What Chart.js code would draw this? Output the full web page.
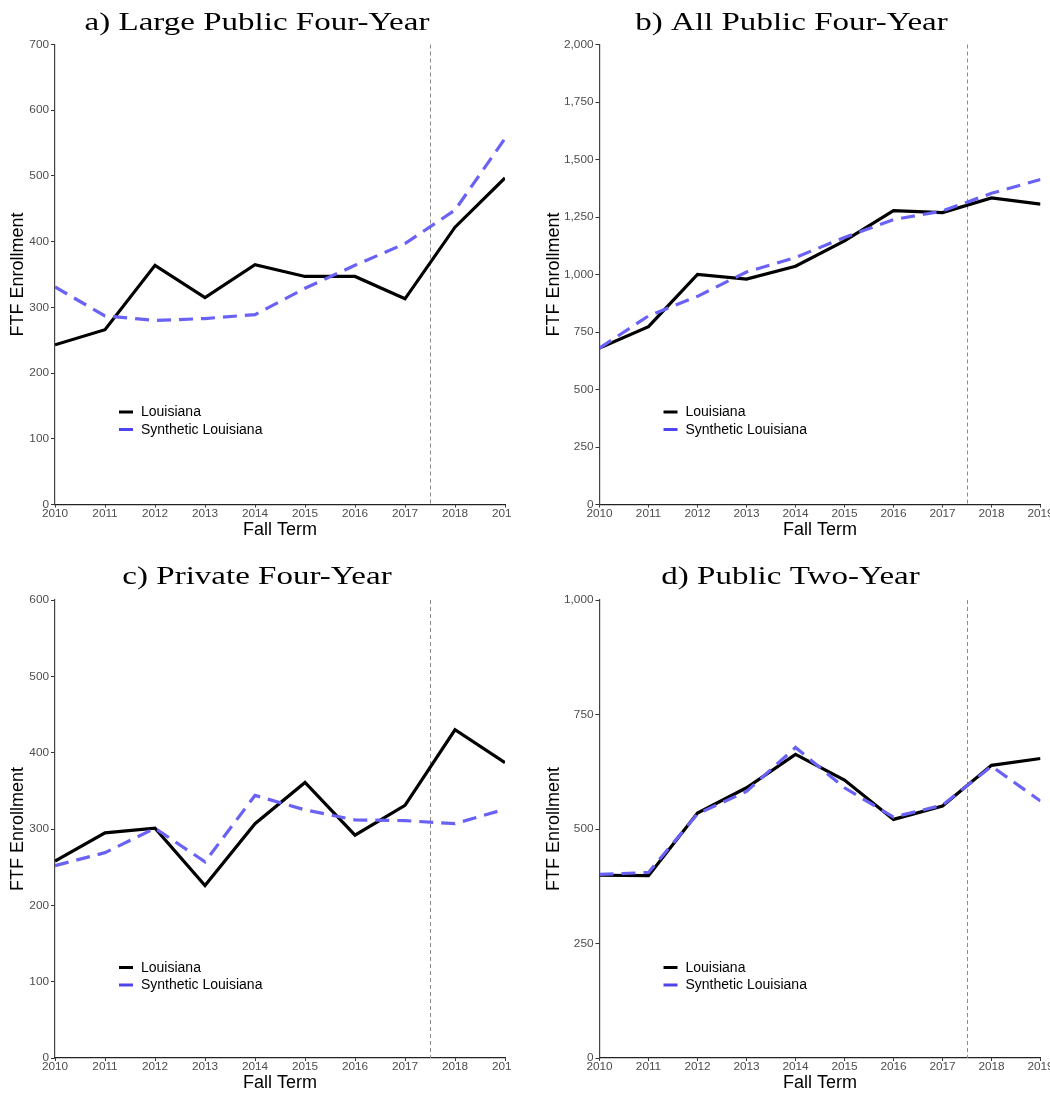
<!DOCTYPE html>
<html>
<head>
<meta charset="utf-8">
<script src="https://cdn.jsdelivr.net/npm/chart.js@4.4.1/dist/chart.umd.min.js"></script>
<style>
  html, body { margin: 0; padding: 0; background: #ffffff; }
  body { width: 1050px; height: 1097px; position: relative; overflow: hidden; }
  canvas { position: absolute; display: block; }
</style>
</head>
<body>
<canvas id="panelA" width="512" height="548" style="left:0;top:0"></canvas>
<canvas id="panelB" width="525" height="548" style="left:525px;top:0"></canvas>
<canvas id="panelC" width="512" height="542" style="left:0;top:555px"></canvas>
<canvas id="panelD" width="525" height="542" style="left:525px;top:555px"></canvas>
<script>
// Fall terms on the x axis
const years = [2010, 2011, 2012, 2013, 2014, 2015, 2016, 2017, 2018, 2019];
const yearTicks = ['2010', '2011', '2012', '2013', '2014', '2015', '2016', '2017', '2018', '2019'];
const treatmentYear = 2017.5;

const seriesNames = ['Louisiana', 'Synthetic Louisiana'];

// a) Large public four-year
const largePublicLA    = [243, 266, 364, 315, 365, 347, 347, 313, 422, 497];
const largePublicSynth = [331, 287, 280, 283, 289, 329, 364, 397, 448, 557];
// b) All public four-year
const allPublicLA    = [680, 773, 1000, 980, 1036, 1146, 1278, 1269, 1333, 1306];
const allPublicSynth = [680, 820, 905, 1011, 1074, 1161, 1239, 1276, 1353, 1413];
// c) Private four-year
const privateLA    = [258, 295, 301, 226, 307, 361, 292, 331, 430, 387];
const privateSynth = [252, 269, 301, 257, 344, 325, 312, 311, 307, 326];
// d) Public two-year
const twoYearLA    = [399, 398, 535, 590, 663, 607, 521, 550, 639, 654];
const twoYearSynth = [401, 405, 533, 582, 678, 590, 526, 552, 637, 561];

const panelTitles = ['a) Large Public Four-Year', 'b) All Public Four-Year', 'c) Private Four-Year', 'd) Public Two-Year'];

const SANS = "'Liberation Sans', Arial, sans-serif";
const SERIF = "'Liberation Serif', 'Times New Roman', serif";
const LA_COLOR = '#000000';
const SYNTH_COLOR = '#6a62f5';
const SYNTH_KEY_COLOR = '#4f45ef';

// Panel heading drawn above the plot area
const headingPlugin = {
  id: 'heading',
  afterDraw(chart, args, opts) {
    const ctx = chart.ctx;
    ctx.save();
    ctx.font = opts.size + 'px ' + SERIF;
    ctx.fillStyle = '#000';
    ctx.textBaseline = 'alphabetic';
    ctx.textAlign = 'center';
    ctx.translate(opts.x, opts.baseline);
    ctx.scale(opts.stretch, 1);
    ctx.fillText(opts.text, 0, 0);
    ctx.restore();
  }
};

// Dashed vertical reference line at the policy change
const policyLinePlugin = {
  id: 'policyLine',
  beforeDatasetsDraw(chart, args, opts) {
    const { ctx, chartArea, scales } = chart;
    const x = Math.round(scales.x.getPixelForValue(opts.value)) + 0.5;
    ctx.save();
    ctx.strokeStyle = '#8c8c8c';
    ctx.lineWidth = 1;
    ctx.setLineDash([4, 3]);
    ctx.beginPath();
    ctx.moveTo(x, chartArea.top);
    ctx.lineTo(x, chartArea.bottom);
    ctx.stroke();
    ctx.restore();
  }
};

// Legend placed inside the plot area, lower left
const insetLegendPlugin = {
  id: 'insetLegend',
  afterDatasetsDraw(chart, args, opts) {
    const { ctx, chartArea } = chart;
    const x0 = chartArea.left + opts.dx;
    ctx.save();
    ctx.font = '14px ' + SANS;
    ctx.textBaseline = 'middle';
    ctx.textAlign = 'left';
    const entries = [
      { label: chart.data.datasets[0].label, color: LA_COLOR },
      { label: chart.data.datasets[1].label, color: SYNTH_KEY_COLOR }
    ];
    entries.forEach((e, i) => {
      const y = chartArea.top + opts.dy + i * 17.5;
      ctx.strokeStyle = e.color;
      ctx.lineWidth = 3;
      ctx.setLineDash([]);
      ctx.beginPath();
      ctx.moveTo(x0, y);
      ctx.lineTo(x0 + 14, y);
      ctx.stroke();
      ctx.fillStyle = '#000';
      ctx.fillText(e.label, x0 + 22, y + 0.5);
    });
    ctx.restore();
  }
};

function toPoints(values) {
  return years.map((yr, i) => ({ x: yr, y: values[i] }));
}

function makePanel(id, cfg) {
  const tickFont = { family: SANS, size: 11.8, lineHeight: 1 };
  new Chart(document.getElementById(id), {
    type: 'line',
    data: {
      datasets: [
        {
          label: seriesNames[0],
          data: toPoints(cfg.la),
          borderColor: LA_COLOR,
          borderWidth: 3.2,
          pointRadius: 0,
          tension: 0,
          order: 1
        },
        {
          label: seriesNames[1],
          data: toPoints(cfg.synth),
          borderColor: SYNTH_COLOR,
          borderWidth: 3.2,
          borderDash: [14, 8],
          pointRadius: 0,
          tension: 0,
          order: 0
        }
      ]
    },
    options: {
      responsive: false,
      animation: false,
      events: [],
      layout: { padding: { top: cfg.padTop, right: cfg.padRight, left: 0, bottom: 0 } },
      plugins: {
        legend: { display: false },
        tooltip: { enabled: false },
        title: { display: false },
        heading: { text: cfg.title, x: cfg.titleX, baseline: cfg.titleBaseline, size: 26, stretch: 1.27 },
        policyLine: { value: treatmentYear },
        insetLegend: { dx: 64, dy: 367.5 }
      },
      scales: {
        x: {
          type: 'linear',
          min: years[0],
          max: years[years.length - 1],
          offset: false,
          ticks: {
            stepSize: 1,
            autoSkip: false,
            maxRotation: 0,
            padding: 0,
            color: '#4d4d4d',
            font: tickFont,
            callback: (v) => yearTicks[years.indexOf(v)] ?? ''
          },
          grid: { drawOnChartArea: false, drawTicks: true, tickLength: 3, color: '#333', lineWidth: 1 },
          border: { display: true, color: '#222', width: 1.2 },
          title: {
            display: true,
            text: 'Fall Term',
            color: '#000',
            font: { family: SANS, size: 18 },
            padding: { top: 0, bottom: cfg.xTitlePad }
          },
          afterFit: (s) => { s.height = cfg.xAxisHeight; s.paddingLeft = 0; s.paddingRight = 0; }
        },
        y: {
          type: 'linear',
          min: 0,
          max: cfg.yMax,
          ticks: {
            stepSize: cfg.yStep,
            padding: 2,
            color: '#4d4d4d',
            font: tickFont,
            callback: (v) => v.toLocaleString('en-US')
          },
          grid: { drawOnChartArea: false, drawTicks: true, tickLength: 4, color: '#333', lineWidth: 1 },
          border: { display: true, color: '#444', width: 1.2 },
          title: {
            display: true,
            text: 'FTF Enrollment',
            color: '#000',
            font: { family: SANS, size: 18 },
            padding: { top: cfg.yTitlePad, bottom: 0 }
          },
          afterFit: (s) => { s.width = cfg.yAxisWidth; s.paddingTop = 0; s.paddingBottom = 0; }
        }
      }
    },
    plugins: [headingPlugin, policyLinePlugin, insetLegendPlugin]
  });
}

makePanel('panelA', {
  title: panelTitles[0], la: largePublicLA, synth: largePublicSynth, yMax: 700, yStep: 100,
  padTop: 44.5, padRight: 7, yAxisWidth: 55, xAxisHeight: 43.5, yTitlePad: 7.5, xTitlePad: 7.2,
  titleX: 257, titleBaseline: 29.5
});
makePanel('panelB', {
  title: panelTitles[1], la: allPublicLA, synth: allPublicSynth, yMax: 2000, yStep: 250,
  padTop: 44.5, padRight: 9.5, yAxisWidth: 74.5, xAxisHeight: 43.5, yTitlePad: 18, xTitlePad: 7.2,
  titleX: 266.5, titleBaseline: 29.5
});
makePanel('panelC', {
  title: panelTitles[2], la: privateLA, synth: privateSynth, yMax: 600, yStep: 100,
  padTop: 45, padRight: 7, yAxisWidth: 55, xAxisHeight: 39, yTitlePad: 7.5, xTitlePad: 3.5,
  titleX: 257, titleBaseline: 28.5
});
makePanel('panelD', {
  title: panelTitles[3], la: twoYearLA, synth: twoYearSynth, yMax: 1000, yStep: 250,
  padTop: 45, padRight: 9.5, yAxisWidth: 74.5, xAxisHeight: 39, yTitlePad: 18, xTitlePad: 3.5,
  titleX: 265.5, titleBaseline: 28.5
});
</script>
</body>
</html>
